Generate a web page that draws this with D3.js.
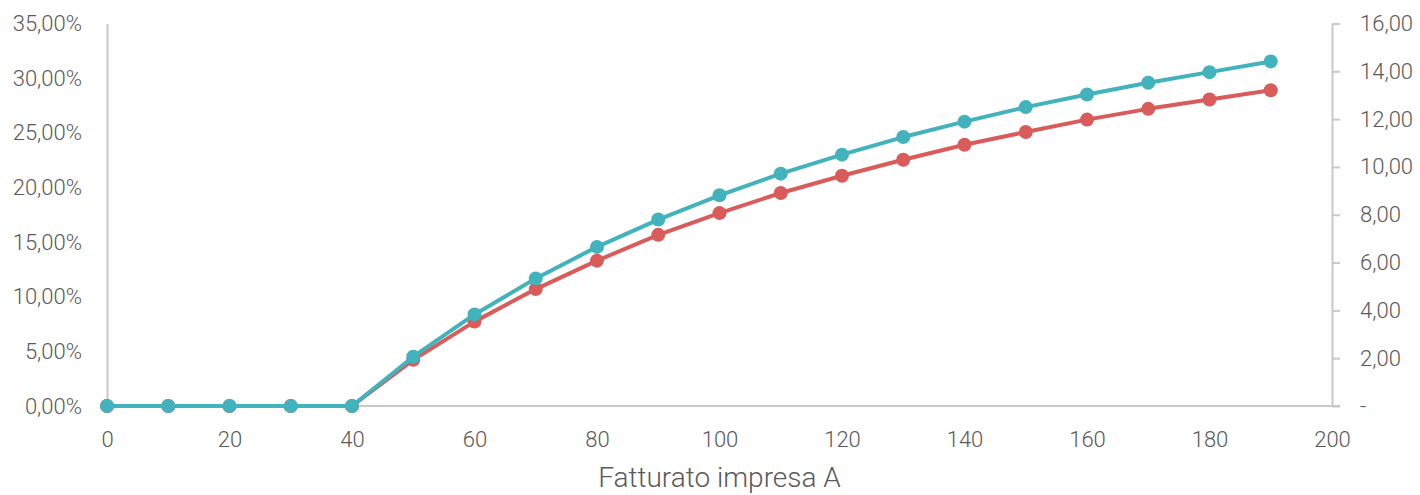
<!DOCTYPE html>
<html><head><meta charset="utf-8">
<script src="https://cdn.jsdelivr.net/npm/d3@7"></script>
<style>
html,body{margin:0;padding:0;background:#fff;}
svg text{font-family:Roboto,"Noto Sans",sans-serif;font-weight:300;fill:#595959;}
</style></head>
<body><svg id="c" width="1420" height="495"></svg>
<script>
const fatturato = [0,10,20,30,40,50,60,70,80,90,100,110,120,130,140,150,160,170,180,190];
const serieTeal = [0,0,0,0,0,4.51,8.38,11.67,14.56,17.06,19.28,21.26,23.00,24.61,26.02,27.35,28.51,29.58,30.55,31.53]; // % (left axis)
const serieRed = [0,0,0,0,0,1.93,3.53,4.89,6.08,7.16,8.07,8.91,9.63,10.30,10.93,11.46,11.98,12.43,12.82,13.21]; // right axis
const xTicks = [0,20,40,60,80,100,120,140,160,180,200];
const leftTicks = [0,5,10,15,20,25,30,35];
const rightTicks = [0,2,4,6,8,10,12,14,16];
const xTitle = "Fatturato impresa A";

const svg = d3.select("#c");
const L = 107, R = 1332, T = 23.5, B = 406;
const x = d3.scaleLinear().domain([0,200]).range([L,R]);
const yL = d3.scaleLinear().domain([0,35]).range([B,T]);
const yR = d3.scaleLinear().domain([0,16]).range([B,T]);
const it = d3.formatLocale({decimal:",",thousands:".",grouping:[3],currency:["€",""]});
const fL = d => it.format(".2f")(d) + "%";
const fR = d => d === 0 ? "-" : it.format(".2f")(d);
const axisCol = "#c8c8c8";

// bottom axis
const gx = svg.append("g").attr("transform",`translate(0,${B})`)
  .call(d3.axisBottom(x).tickValues(xTicks).tickSize(0).tickSizeOuter(0).tickPadding(25).tickFormat(d=>d));
gx.select(".domain").remove();
gx.selectAll("text").style("font-size","22px");
svg.append("line").attr("x1",L).attr("x2",R+8).attr("y1",B).attr("y2",B)
  .attr("stroke",axisCol).attr("stroke-width",2);

// left axis
const gl = svg.append("g").attr("transform",`translate(${L},0)`)
  .call(d3.axisLeft(yL).tickValues(leftTicks).tickSize(0).tickPadding(25).tickFormat(fL));
gl.select(".domain").attr("stroke",axisCol).attr("stroke-width",2);
gl.selectAll("text").style("font-size","22px");

// right axis
const gr = svg.append("g").attr("transform",`translate(${R},0)`)
  .call(d3.axisRight(yR).tickValues(rightTicks).tickSize(8).tickSizeOuter(0).tickPadding(20).tickFormat(fR));
gr.select(".domain").attr("stroke",axisCol).attr("stroke-width",2);
gr.selectAll(".tick line").attr("stroke",axisCol).attr("stroke-width",2);
gr.selectAll("text").style("font-size","22px");

// title
svg.append("text").attr("x",(L+R)/2).attr("y",487).attr("text-anchor","middle")
  .style("font-size","28px").text(xTitle);

function draw(vals, y, col){
  const pts = fatturato.map((f,i)=>[f, vals[i]]);
  svg.append("path").datum(pts).attr("fill","none").attr("stroke",col).attr("stroke-width",4)
    .attr("stroke-linejoin","round")
    .attr("d", d3.line().x(d=>x(d[0])).y(d=>y(d[1])));
  svg.append("g").selectAll("circle").data(pts).join("circle")
    .attr("cx",d=>x(d[0])).attr("cy",d=>y(d[1])).attr("r",7).attr("fill",col);
}
draw(serieRed, yR, "#d95b5a");
draw(serieTeal, yL, "#42b3bc");
</script></body></html>
